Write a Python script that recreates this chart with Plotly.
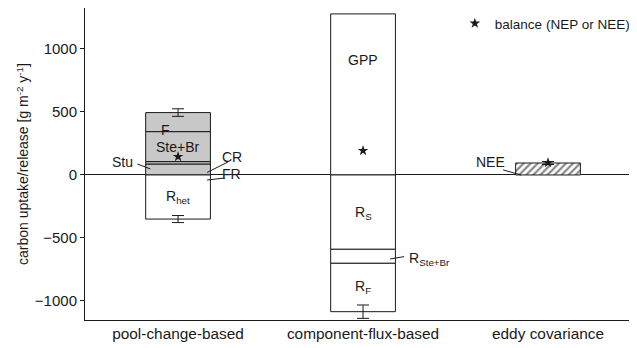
import plotly.graph_objects as go

# ---- data ----
categories = ["pool-change-based", "component-flux-based", "eddy covariance"]
cat_x = [0, 1, 2]

# pool-change-based: positive pool increments (bottom to top), negative heterotrophic respiration
pool_pos_names = ["Stu", "CR", "Ste+Br", "F"]
pool_pos_values = [87, 19, 238, 151]
pool_neg_names = ["R<sub>het</sub>"]
pool_neg_values = [-350]
pool_top_err = 30
pool_bottom_err = 28

# component-flux-based
flux_pos_names = ["GPP"]
flux_pos_values = [1278]
flux_neg_names = ["R<sub>S</sub>", "R<sub>Ste+Br</sub>", "R<sub>F</sub>"]
flux_neg_values = [-590, -111, -384]
flux_bottom_err = 53

# eddy covariance
nee_value = [95]
nee_err = [12]

# balance (NEP or NEE)
balance_values = [145, 193, 98]

y_ticks = [-1000, -500, 0, 500, 1000]

# ---- styles ----
BW = 0.35
GRAY = "#c8c8c8"
LINE = dict(color="#1a1a1a", width=1)
FONT = "Liberation Sans, Arial, sans-serif"
TXT = "#1a1a1a"

fig = go.Figure()

def err(v):
    return dict(type="data", array=[v], visible=True, color="#1a1a1a", thickness=1, width=6)

# pool-change-based bar
for i, (n, v) in enumerate(zip(pool_pos_names, pool_pos_values)):
    fig.add_trace(go.Bar(x=[cat_x[0]], y=[v], name=n, width=BW, marker=dict(color=GRAY, line=LINE),
                         showlegend=False, hoverinfo="skip",
                         error_y=err(pool_top_err) if i == len(pool_pos_values) - 1 else None))
for n, v in zip(pool_neg_names, pool_neg_values):
    fig.add_trace(go.Bar(x=[cat_x[0]], y=[v], name=n, width=BW, marker=dict(color="white", line=LINE),
                         showlegend=False, hoverinfo="skip", error_y=err(pool_bottom_err)))

# component-flux-based bar
for n, v in zip(flux_pos_names, flux_pos_values):
    fig.add_trace(go.Bar(x=[cat_x[1]], y=[v], name=n, width=BW, marker=dict(color="white", line=LINE),
                         showlegend=False, hoverinfo="skip"))
for i, (n, v) in enumerate(zip(flux_neg_names, flux_neg_values)):
    fig.add_trace(go.Bar(x=[cat_x[1]], y=[v], name=n, width=BW, marker=dict(color="white", line=LINE),
                         showlegend=False, hoverinfo="skip",
                         error_y=err(flux_bottom_err) if i == len(flux_neg_values) - 1 else None))

# eddy covariance bar (hatched)
fig.add_trace(go.Bar(x=[cat_x[2]], y=nee_value, name="NEE", width=BW,
                     marker=dict(color="white", line=LINE,
                                 pattern=dict(shape="/", fgcolor="#111111", bgcolor="white", size=5, solidity=0.45)),
                     showlegend=False, hoverinfo="skip", error_y=err(nee_err[0])))

# balance stars
fig.add_trace(go.Scatter(x=cat_x, y=balance_values, mode="markers", name="balance (NEP or NEE)",
                         marker=dict(symbol="star", size=8, color="#1a1a1a"), showlegend=True))

# ---- text labels ----
def lab(x, y, t, xanchor="center"):
    fig.add_annotation(x=x, y=y, text=t, showarrow=False, xanchor=xanchor, yanchor="middle",
                       font=dict(family=FONT, size=14, color=TXT))

lab(-0.07, 355, "F")
lab(0, 225, "Ste+Br")
lab(-0.30, 103, "Stu")
lab(0.29, 140, "CR")
lab(0.29, 6, "FR")
lab(0, -175, "R<sub>het</sub>")
lab(1, 913, "GPP")
lab(1, -302, "R<sub>S</sub>")
lab(1.235, -667, "R<sub>Ste+Br</sub>", xanchor="left")
lab(1, -889, "R<sub>F</sub>")
lab(1.69, 103, "NEE")

def leader(x0, y0, x1, y1):
    fig.add_shape(type="line", x0=x0, y0=y0, x1=x1, y1=y1, xref="x", yref="y",
                  line=dict(color="#1a1a1a", width=1))

leader(-0.22, 87, -0.15, 48)
leader(0.27, 103, 0.157, 20)
leader(0.254, -24, 0.157, -40)
leader(1.146, -667, 1.222, -648)
leader(1.757, 40, 1.854, 0)

# page body has ~8px default margin: size/margins compensate so the plot lands where the reference has it
fig.update_layout(
    width=629, height=340,
    margin=dict(l=77, r=0, t=0, b=28, autoexpand=False),
    barmode="relative",
    plot_bgcolor="white", paper_bgcolor="white",
    font=dict(family=FONT, size=15, color=TXT),
    showlegend=True,
    legend=dict(x=0.67, y=1.0, xanchor="left", yanchor="top", bgcolor="rgba(0,0,0,0)",
                font=dict(family=FONT, size=13.5, color=TXT), borderwidth=0),
    xaxis=dict(range=[-0.503, 2.481], tickvals=cat_x, ticktext=categories, ticks="",
               showline=True, linecolor="#1a1a1a", linewidth=1, mirror=True, showgrid=False,
               zeroline=False, tickfont=dict(size=15.4)),
    yaxis=dict(range=[-1151, 1325], tickvals=y_ticks, ticks="outside", ticklen=4,
               tickcolor="#1a1a1a", showline=True, linecolor="#1a1a1a", linewidth=1, mirror=True,
               showgrid=False, zeroline=True, zerolinecolor="#1a1a1a", zerolinewidth=1,
               title=dict(text="carbon uptake/release [g m<sup>-2</sup> y<sup>-1</sup>]",
                          font=dict(size=14), standoff=2),
               tickfont=dict(size=15)),
    yaxis2=dict(range=[-1151, 1325], overlaying="y", side="right", tickvals=y_ticks,
                ticks="inside", ticklen=4, tickcolor="#1a1a1a", showticklabels=False,
                showline=False, showgrid=False, zeroline=False),
)

fig.write_html("out.html")
